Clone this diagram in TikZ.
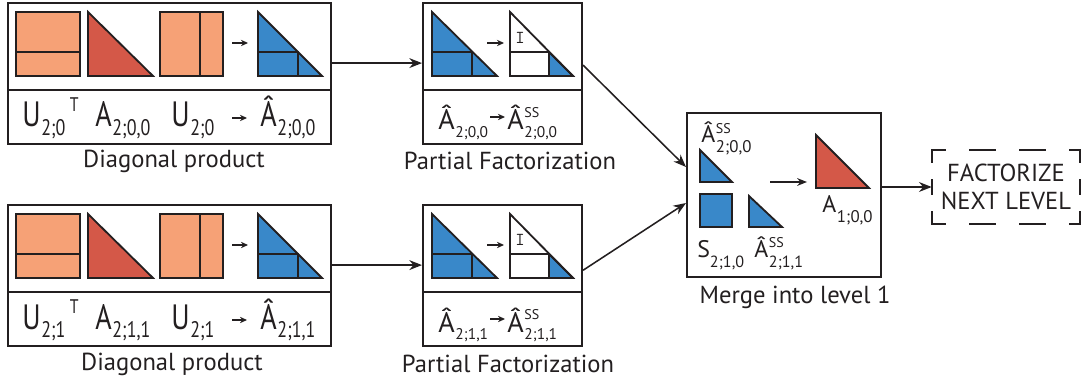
\documentclass[tikz,border=0pt]{standalone}
\usepackage{fontspec}
\setmainfont{PT Sans}
\newfontfamily\narrowfont[FakeStretch=0.8]{PT Sans}
\usetikzlibrary{arrows.meta}

\definecolor{ink}{HTML}{231F20}
\definecolor{peach}{HTML}{F6A176}
\definecolor{brick}{HTML}{D45848}
\definecolor{steel}{HTML}{3988C9}

% lowered / raised index: shift, size, text
\newcommand{\lo}[3]{\raisebox{-#1}{\fontsize{#2}{#2}\selectfont #3}}
\newcommand{\hi}[3]{\raisebox{#1}{\fontsize{#2}{#2}\selectfont #3}}

\begin{document}
\begin{tikzpicture}
    [ x=0.025cm, y=-0.025cm,
      box/.style={draw=ink, line width=1.4pt, inner sep=0pt},
      blk/.style={draw=ink, line width=1.3pt},
      link/.style={draw=ink, line width=1.1pt, -{Stealth[length=9pt,width=7pt]}},
      tiny/.style={draw=ink, line width=0.9pt, -{Stealth[length=5pt,width=4.5pt]}},
      dterm/.style={anchor=base west, inner sep=0pt, text=ink, font=\narrowfont\fontsize{25}{25}\selectfont},
      pterm/.style={anchor=base west, inner sep=0pt, text=ink, font=\fontsize{20}{20}\selectfont},
      mterm/.style={anchor=base west, inner sep=0pt, text=ink, font=\fontsize{17}{17}\selectfont},
      caption/.style={anchor=base, inner sep=0pt, text=ink, font=\fontsize{17.5}{20}\selectfont},
      dashbox/.style={draw=ink, line width=1.4pt, line cap=rect} ]

    \useasboundingbox (0,0) rectangle (1082,385);

    % boxes
    \node[box, minimum width=8.075cm, minimum height=3.525cm] (diag1) at (169.5,73.5) {};
    \node[box, minimum width=8.075cm, minimum height=3.525cm] (diag2) at (169.5,275.5) {};
    \node[box, minimum width=3.975cm, minimum height=3.525cm] (part1) at (502.5,73.5) {};
    \node[box, minimum width=3.975cm, minimum height=3.525cm] (part2) at (502.5,275.5) {};
    \node[box, minimum width=4.85cm, minimum height=4.1cm] (merge) at (784,195) {};
    \node[inner sep=0pt, minimum width=3.7cm, minimum height=1.85cm, align=center,
          text=ink, font=\fontsize{17.5}{19.5}\selectfont] (next) at (1006,187) {FACTORIZE\\NEXT LEVEL};

    \draw[box] (8,90) -- (331,90);
    \draw[box] (8,292) -- (331,292);
    \draw[box] (423,90) -- (582,90);
    \draw[box] (423,292) -- (582,292);

    % dashed frame
    \draw[dashbox, dash pattern=on 0.625cm off 0.625cm, dash phase=0.3cm] (next.north west) -- (next.north east);
    \draw[dashbox, dash pattern=on 0.625cm off 0.625cm, dash phase=0.3cm] (next.south west) -- (next.south east);
    \draw[dashbox, dash pattern=on 0.35cm off 0.45cm, dash phase=0.05cm] (next.north west) -- (next.south west);
    \draw[dashbox, dash pattern=on 0.35cm off 0.45cm, dash phase=0.05cm] (next.north east) -- (next.south east);

    % diagonal product, level 0
    \filldraw[blk, fill=peach] (16,12) rectangle (80,76);
    \draw[blk] (16,52) -- (80,52);
    \filldraw[blk, fill=brick] (88,12) -- (88,76) -- (153,76) -- cycle;
    \filldraw[blk, fill=peach] (160,12) rectangle (223,76);
    \draw[blk] (200,12) -- (200,76);
    \draw[tiny] (232,43) -- (248,43);
    \filldraw[blk, fill=steel] (258,12) -- (258,76) -- (322,76) -- cycle;
    \draw[blk] (258,52) -- (298,52) -- (298,76);

    \node[dterm] (ut1) at (22,127) {U\kern0.5pt\lo{6pt}{16}{2;0}\kern3pt\hi{11pt}{14}{T}};
    \node[dterm] (a1) at (95,127) {A\kern0.5pt\lo{6pt}{16}{2;0,0}};
    \node[dterm] (u1) at (171,127) {U\kern0.5pt\lo{6pt}{16}{2;0}};
    \draw[tiny] (232,118) -- (247,118);
    \node[dterm] (ah1) at (260,127) {Â\kern0.5pt\lo{6pt}{16}{2;0,0}};

    % diagonal product, level 1
    \filldraw[blk, fill=peach] (16,214) rectangle (80,278);
    \draw[blk] (16,254) -- (80,254);
    \filldraw[blk, fill=brick] (88,214) -- (88,278) -- (153,278) -- cycle;
    \filldraw[blk, fill=peach] (160,214) rectangle (223,278);
    \draw[blk] (200,214) -- (200,278);
    \draw[tiny] (232,245) -- (248,245);
    \filldraw[blk, fill=steel] (258,214) -- (258,278) -- (322,278) -- cycle;
    \draw[blk] (258,254) -- (298,254) -- (298,278);

    \node[dterm] (ut2) at (22,329) {U\kern0.5pt\lo{6pt}{16}{2;1}\kern3pt\hi{11pt}{14}{T}};
    \node[dterm] (a2) at (95,329) {A\kern0.5pt\lo{6pt}{16}{2;1,1}};
    \node[dterm] (u2) at (171,329) {U\kern0.5pt\lo{6pt}{16}{2;1}};
    \draw[tiny] (232,320) -- (247,320);
    \node[dterm] (ah2) at (260,329) {Â\kern0.5pt\lo{6pt}{16}{2;1,1}};

    % partial factorization, level 0
    \filldraw[blk, fill=steel] (432,12) -- (432,76) -- (497,76) -- cycle;
    \draw[blk] (432,52) -- (472,52) -- (472,76);
    \draw[tiny] (487,43) -- (504,43);
    \filldraw[blk, fill=steel] (549,52) -- (549,76) -- (573,76) -- cycle;
    \draw[blk] (510,12) -- (510,76) -- (573,76) -- cycle;
    \draw[blk] (510,52) -- (549,52);
    \node[inner sep=0pt, text=ink, font=\ttfamily\fontsize{13}{13}\selectfont] (id1) at (520,38) {I};

    \node[pterm] (pa1) at (438,130) {Â\kern0.5pt\lo{5pt}{11}{2;0,0}};
    \draw[tiny] (490,117) -- (505,117);
    \node[pterm] (ps1) at (507,130) {Â\kern0.5pt\makebox[0pt][l]{\hi{9pt}{10}{SS}}\lo{5pt}{11}{2;0,0}};

    % partial factorization, level 1
    \filldraw[blk, fill=steel] (432,214) -- (432,278) -- (497,278) -- cycle;
    \draw[blk] (432,254) -- (472,254) -- (472,278);
    \draw[tiny] (487,245) -- (504,245);
    \filldraw[blk, fill=steel] (549,254) -- (549,278) -- (573,278) -- cycle;
    \draw[blk] (510,214) -- (510,278) -- (573,278) -- cycle;
    \draw[blk] (510,254) -- (549,254);
    \node[inner sep=0pt, text=ink, font=\ttfamily\fontsize{13}{13}\selectfont] (id2) at (520,240) {I};

    \node[pterm] (pa2) at (438,332) {Â\kern0.5pt\lo{5pt}{11}{2;1,1}};
    \draw[tiny] (490,319) -- (505,319);
    \node[pterm] (ps2) at (507,332) {Â\kern0.5pt\makebox[0pt][l]{\hi{9pt}{10}{SS}}\lo{5pt}{11}{2;1,1}};

    % merge
    \node[mterm] (m00) at (701,143) {Â\kern0.5pt\makebox[0pt][l]{\hi{6.5pt}{10}{SS}}\lo{7pt}{12}{2;0,0}};
    \filldraw[blk, fill=steel] (700,150) -- (700,182) -- (732,182) -- cycle;
    \filldraw[blk, fill=steel] (700,194) rectangle (732,227);
    \filldraw[blk, fill=steel] (749,196) -- (749,227) -- (782,227) -- cycle;
    \node[mterm] (s10) at (697,258) {S\lo{6.5pt}{11.5}{2;1,0}};
    \node[mterm] (m11) at (754,258) {Â\kern0.5pt\makebox[0pt][l]{\hi{7.5pt}{10}{SS}}\lo{6.5pt}{11.5}{2;1,1}};
    \draw[link, line width=0.9pt, -{Stealth[length=7pt,width=5.5pt]}] (770,182) -- (807,182);
    \filldraw[blk, fill=brick] (816,135) -- (816,188) -- (869,188) -- cycle;
    \node[mterm] (a100) at (822,213) {A\kern0.5pt\lo{7pt}{12}{1;0,0}};

    % captions
    \node[caption] at (174,168) {Diagonal product};
    \node[caption] at (172,370) {Diagonal product};
    \node[caption] at (510,170) {Partial Factorization};
    \node[caption] at (508,372) {Partial Factorization};
    \node[caption] at (795,303) {Merge into level 1};

    % connectors
    \draw[link] ([yshift=0.26cm]diag1.east) -- ([yshift=0.26cm]part1.west);
    \draw[link] ([yshift=0.26cm]diag2.east) -- ([yshift=0.26cm]part2.west);
    \draw[link] ([yshift=0.21cm]part1.east) -- ([yshift=0.7cm]merge.west);
    \draw[link] ([yshift=0.13cm]part2.east) -- ([yshift=-0.2cm]merge.west);
    \draw[link] (merge.east |- next.west) -- (next.west);

\end{tikzpicture}
\end{document}
